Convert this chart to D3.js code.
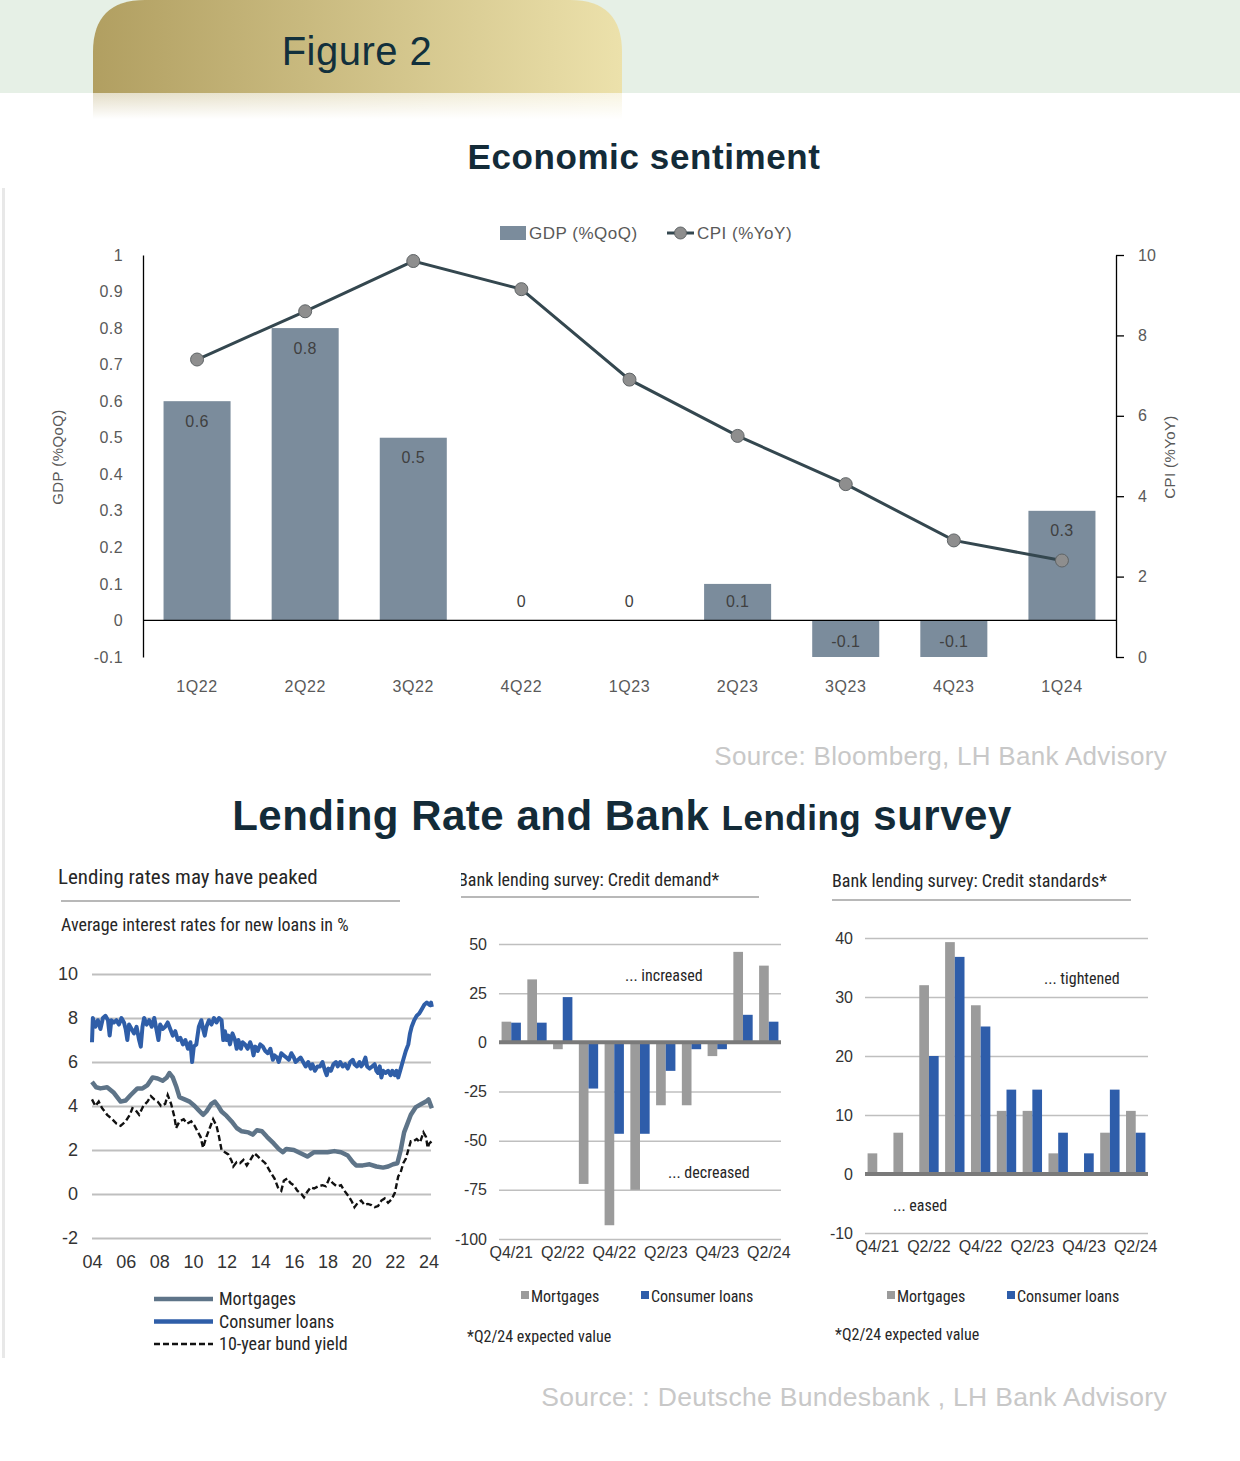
<!DOCTYPE html>
<html>
<head>
<meta charset="utf-8">
<script src="https://cdn.jsdelivr.net/npm/d3@7"></script>
<style>
  body { margin: 0; background: #fff; }
  svg { display: block; }
</style>
</head>
<body>
<div class="figure"></div>
<script>
// ---- data: economic sentiment ----
const quarters = ["1Q22", "2Q22", "3Q22", "4Q22", "1Q23", "2Q23", "3Q23", "4Q23", "1Q24"];
const gdp = [0.6, 0.8, 0.5, 0, 0, 0.1, -0.1, -0.1, 0.3];
const cpi = [7.4, 8.6, 9.85, 9.15, 6.9, 5.5, 4.3, 2.9, 2.4];
const gdpTicks = [-0.1, 0, 0.1, 0.2, 0.3, 0.4, 0.5, 0.6, 0.7, 0.8, 0.9, 1];
const cpiTicks = [0, 2, 4, 6, 8, 10];

// ---- data: lending rates (year, %) ----
const rateTicks = [-2, 0, 2, 4, 6, 8, 10];
const yearTicks = [2004, 2006, 2008, 2010, 2012, 2014, 2016, 2018, 2020, 2022, 2024];
const consumerLoans = [
  [2004.0, 6.9], [2004.05, 8.0], [2004.2, 7.6], [2004.35, 7.9], [2004.5, 7.5], [2004.65, 8.0], [2004.8, 8.1],
  [2004.95, 7.9], [2005.05, 7.2], [2005.15, 7.9], [2005.3, 7.8], [2005.45, 7.9], [2005.6, 7.7], [2005.75, 8.0],
  [2005.9, 7.8], [2006.0, 7.5], [2006.1, 7.0], [2006.2, 7.7], [2006.35, 7.5], [2006.5, 7.3], [2006.65, 7.6],
  [2006.8, 7.0], [2006.9, 6.7], [2007.0, 7.6], [2007.1, 8.0], [2007.25, 7.7], [2007.4, 7.9], [2007.55, 7.6],
  [2007.7, 8.0], [2007.85, 7.4], [2007.95, 7.0], [2008.05, 7.7], [2008.2, 7.5], [2008.35, 7.6], [2008.5, 7.8],
  [2008.65, 7.5], [2008.8, 7.2], [2008.95, 7.4], [2009.1, 7.0], [2009.25, 7.1], [2009.4, 6.8], [2009.55, 7.0],
  [2009.7, 6.6], [2009.85, 6.9], [2009.95, 6.0], [2010.05, 6.7], [2010.2, 6.8], [2010.35, 7.6], [2010.5, 7.9],
  [2010.6, 7.5], [2010.7, 7.2], [2010.8, 7.6], [2010.95, 7.9], [2011.1, 7.7], [2011.25, 8.0], [2011.4, 7.8],
  [2011.55, 8.0], [2011.7, 7.9], [2011.8, 7.0], [2011.9, 7.4], [2012.0, 7.0], [2012.1, 7.2], [2012.2, 6.8],
  [2012.35, 7.3], [2012.5, 7.0], [2012.6, 6.6], [2012.7, 7.0], [2012.85, 6.6], [2012.95, 6.9], [2013.1, 6.8],
  [2013.25, 6.6], [2013.4, 6.9], [2013.5, 6.7], [2013.6, 6.3], [2013.7, 6.7], [2013.85, 6.5], [2014.0, 6.8],
  [2014.15, 6.7], [2014.3, 6.5], [2014.45, 6.4], [2014.6, 6.6], [2014.75, 6.1], [2014.85, 6.3], [2015.0, 6.2],
  [2015.1, 6.0], [2015.25, 6.4], [2015.4, 6.3], [2015.55, 6.2], [2015.7, 6.1], [2015.85, 6.4], [2016.0, 6.2],
  [2016.1, 6.0], [2016.25, 6.1], [2016.4, 6.2], [2016.55, 6.0], [2016.7, 5.8], [2016.85, 6.0], [2017.0, 5.7],
  [2017.1, 5.9], [2017.25, 5.6], [2017.4, 5.8], [2017.55, 5.8], [2017.7, 6.0], [2017.85, 5.6], [2017.95, 5.4],
  [2018.05, 5.7], [2018.2, 5.6], [2018.35, 5.9], [2018.5, 6.0], [2018.6, 5.8], [2018.75, 6.0], [2018.9, 5.8],
  [2019.05, 5.9], [2019.2, 5.7], [2019.35, 6.0], [2019.5, 6.1], [2019.6, 5.9], [2019.75, 5.8], [2019.9, 6.0],
  [2020.0, 5.8], [2020.1, 5.9], [2020.25, 6.2], [2020.35, 5.8], [2020.5, 5.7], [2020.65, 5.8], [2020.8, 5.9],
  [2020.9, 5.6], [2021.0, 5.5], [2021.1, 5.8], [2021.2, 5.3], [2021.3, 5.6], [2021.45, 5.5], [2021.6, 5.6],
  [2021.75, 5.4], [2021.85, 5.6], [2022.0, 5.4], [2022.1, 5.6], [2022.2, 5.3], [2022.35, 5.7], [2022.5, 6.1],
  [2022.65, 6.5], [2022.8, 6.8], [2022.9, 7.3], [2023.0, 7.6], [2023.15, 7.9], [2023.3, 8.1], [2023.45, 8.2],
  [2023.6, 8.4], [2023.75, 8.6], [2023.9, 8.7], [2024.05, 8.6], [2024.15, 8.7], [2024.2, 8.5]
];
const mortgages = [
  [2004.0, 5.1], [2004.25, 4.85], [2004.5, 4.8], [2004.9, 4.85], [2005.3, 4.6], [2005.7, 4.2], [2006.0, 4.25],
  [2006.3, 4.5], [2006.7, 4.8], [2007.0, 4.8], [2007.3, 4.95], [2007.6, 5.3], [2007.9, 5.25], [2008.2, 5.15],
  [2008.45, 5.3], [2008.6, 5.5], [2008.8, 5.3], [2009.0, 4.9], [2009.2, 4.4], [2009.5, 4.3], [2009.8, 4.2],
  [2010.1, 4.0], [2010.35, 3.8], [2010.6, 3.6], [2010.8, 3.75], [2011.1, 4.1], [2011.3, 4.2], [2011.5, 4.0],
  [2011.7, 3.75], [2012.0, 3.55], [2012.3, 3.3], [2012.6, 3.0], [2012.9, 2.85], [2013.3, 2.8], [2013.55, 2.7],
  [2013.8, 2.9], [2014.1, 2.85], [2014.4, 2.6], [2014.8, 2.3], [2015.1, 2.05], [2015.35, 1.9], [2015.55, 2.05],
  [2016.0, 2.0], [2016.4, 1.85], [2016.8, 1.7], [2017.2, 1.9], [2017.6, 1.9], [2018.0, 1.9], [2018.4, 1.95],
  [2018.8, 1.9], [2019.2, 1.75], [2019.5, 1.45], [2019.7, 1.3], [2020.1, 1.3], [2020.5, 1.35], [2020.9, 1.25],
  [2021.3, 1.2], [2021.6, 1.25], [2021.9, 1.35], [2022.15, 1.4], [2022.35, 2.0], [2022.55, 2.8], [2022.75, 3.2],
  [2022.95, 3.6], [2023.25, 3.95], [2023.6, 4.1], [2023.85, 4.2], [2024.0, 4.3], [2024.2, 3.9]
];
const bundYield = [
  [2004.0, 4.3], [2004.2, 4.0], [2004.4, 4.2], [2004.6, 3.9], [2004.9, 3.6], [2005.2, 3.4], [2005.45, 3.2],
  [2005.7, 3.1], [2006.0, 3.3], [2006.25, 3.6], [2006.4, 3.9], [2006.6, 3.8], [2006.8, 3.6], [2007.05, 4.0],
  [2007.3, 4.2], [2007.5, 4.45], [2007.7, 4.3], [2007.9, 4.2], [2008.1, 4.0], [2008.35, 4.1], [2008.5, 4.5],
  [2008.7, 4.1], [2008.9, 3.5], [2009.0, 3.0], [2009.2, 3.3], [2009.45, 3.4], [2009.65, 3.2], [2009.9, 3.3],
  [2010.1, 3.1], [2010.3, 2.8], [2010.45, 2.6], [2010.6, 2.1], [2010.8, 2.6], [2011.0, 3.0], [2011.2, 3.4],
  [2011.4, 3.1], [2011.55, 2.6], [2011.7, 2.0], [2011.9, 1.9], [2012.1, 1.8], [2012.3, 1.5], [2012.4, 1.25],
  [2012.6, 1.45], [2012.8, 1.4], [2013.0, 1.55], [2013.2, 1.3], [2013.45, 1.6], [2013.65, 1.85], [2013.8, 1.75],
  [2014.0, 1.6], [2014.3, 1.4], [2014.6, 1.0], [2014.85, 0.7], [2015.05, 0.3], [2015.25, 0.15], [2015.4, 0.6],
  [2015.6, 0.7], [2015.8, 0.5], [2016.0, 0.4], [2016.2, 0.15], [2016.45, 0.0], [2016.6, -0.15], [2016.8, 0.1],
  [2017.0, 0.3], [2017.2, 0.25], [2017.45, 0.35], [2017.7, 0.4], [2017.9, 0.35], [2018.1, 0.7], [2018.3, 0.5],
  [2018.55, 0.35], [2018.8, 0.4], [2019.0, 0.15], [2019.25, -0.1], [2019.45, -0.35], [2019.6, -0.6],
  [2019.8, -0.4], [2020.0, -0.3], [2020.2, -0.5], [2020.4, -0.45], [2020.6, -0.5], [2020.8, -0.6],
  [2021.0, -0.55], [2021.2, -0.3], [2021.4, -0.2], [2021.6, -0.4], [2021.8, -0.25], [2022.0, 0.05],
  [2022.2, 0.8], [2022.35, 1.0], [2022.5, 1.4], [2022.65, 1.6], [2022.8, 2.0], [2022.95, 2.4], [2023.1, 2.4],
  [2023.3, 2.5], [2023.5, 2.35], [2023.7, 2.8], [2023.85, 2.6], [2023.95, 2.1], [2024.05, 2.3], [2024.2, 2.4]
];

// ---- data: bank lending survey (net percentages) ----
const surveyQuarters = ["Q4/21", "Q1/22", "Q2/22", "Q3/22", "Q4/22", "Q1/23", "Q2/23", "Q3/23", "Q4/23", "Q1/24", "Q2/24"];
const surveySeries = ["Mortgages", "Consumer loans"];
const demandMortgages = [10.5, 32, -3.5, -72, -93, -75, -32, -32, -7, 46, 39];
const demandConsumer = [10, 10, 23, -23.5, -46.5, -46.5, -14.5, -3.5, -3.5, 14, 10.5];
const demandTicks = [-100, -75, -50, -25, 0, 25, 50];
const standardsMortgages = [3.5, 7, 32, 39.3, 28.6, 10.7, 10.7, 3.5, 0, 7, 10.7];
const standardsConsumer = [0, 0, 20, 36.8, 25, 14.3, 14.3, 7, 3.5, 14.3, 7];
const standardsTicks = [-10, 0, 10, 20, 30, 40];

const width = 1240;
const height = 1461;
const sansFont = "'Liberation Sans', Arial, Helvetica, sans-serif";
const narrowFont = "'Liberation Sans Narrow', 'Arial Narrow', 'Roboto Condensed', 'Liberation Sans', sans-serif";
// plain hyphen for negatives, like the source charts
const plain = d => String(d);

let svg = d3.select(".figure").append("svg")
    .attr("width", width)
    .attr("height", height)
    .attr("viewBox", `0 0 ${width} ${height}`);

let defs = svg.append("defs");

// gold gradient for the header tab
let gold = defs.append("linearGradient").attr("id", "gold");
gold.append("stop").attr("offset", "0%").attr("stop-color", "#b19f61");
gold.append("stop").attr("offset", "100%").attr("stop-color", "#ece1ab");

// reflection under the tab
let fade = defs.append("linearGradient").attr("id", "fade")
    .attr("x1", 0).attr("y1", 0).attr("x2", 0).attr("y2", 1);
fade.append("stop").attr("offset", "0%").attr("stop-color", "#ffffff").attr("stop-opacity", 0);
fade.append("stop").attr("offset", "100%").attr("stop-color", "#ffffff").attr("stop-opacity", 1);

defs.append("clipPath").attr("id", "clipDemandTitle")
    .append("rect").attr("x", 461).attr("y", 850).attr("width", 320).attr("height", 50);

// ---- header ----
svg.append("rect").attr("x", 0).attr("y", 0).attr("width", width).attr("height", 93).attr("fill", "#e6f0e6");
svg.append("path")
    .attr("d", "M93,93 L93,52 Q93,0 145,0 L570,0 Q622,0 622,52 L622,93 Z")
    .attr("fill", "url(#gold)");
svg.append("rect").attr("x", 93).attr("y", 93).attr("width", 529).attr("height", 26)
    .attr("fill", "url(#gold)").attr("opacity", 0.35);
svg.append("rect").attr("x", 93).attr("y", 93).attr("width", 529).attr("height", 26)
    .attr("fill", "url(#fade)");
svg.append("text")
    .attr("x", 357).attr("y", 65)
    .attr("text-anchor", "middle")
    .style("font-family", sansFont).style("font-size", "40px").style("letter-spacing", "0.5px")
    .attr("fill", "#12303c")
    .text("Figure 2");

// thin grey strip on the left edge
svg.append("rect").attr("x", 2).attr("y", 188).attr("width", 3).attr("height", 1170).attr("fill", "#e8e8e8");

svg.append("text")
    .attr("x", 644).attr("y", 169)
    .attr("text-anchor", "middle")
    .style("font-family", sansFont).style("font-size", "35px").style("font-weight", "bold").style("letter-spacing", "0.6px")
    .attr("fill", "#132b38")
    .text("Economic sentiment");

// ---- top chart: GDP bars + CPI line ----
const topBox = { left: 143, right: 1116, top: 255, bottom: 657 };

const xTop = d3.scaleBand().domain(quarters).range([topBox.left, topBox.right]).paddingInner(0.38).paddingOuter(0.19);
const yGdp = d3.scaleLinear().domain([-0.1, 1]).range([topBox.bottom, topBox.top]);
const yCpi = d3.scaleLinear().domain([0, 10]).range([topBox.bottom, topBox.top]);

let topChart = svg.append("g").style("font-family", sansFont);

topChart.append("g")
    .attr("transform", `translate(${topBox.left},0)`)
    .call(d3.axisLeft(yGdp).tickValues(gdpTicks).tickSize(0).tickPadding(20).tickFormat(plain))
    .call(g => g.select(".domain").attr("stroke", "#000").attr("stroke-width", 1.3))
    .call(g => g.selectAll("text").attr("fill", "#595959").style("font-size", "16px").style("letter-spacing", "0.4px"));

topChart.append("g")
    .attr("transform", `translate(${topBox.right},0)`)
    .call(d3.axisRight(yCpi).tickValues(cpiTicks).tickSize(8).tickSizeOuter(0).tickPadding(14).tickFormat(plain))
    .call(g => g.select(".domain").attr("stroke", "#000").attr("stroke-width", 1.3))
    .call(g => g.selectAll("line").attr("stroke", "#000").attr("stroke-width", 1.3))
    .call(g => g.selectAll("text").attr("fill", "#595959").style("font-size", "16px"));

topChart.append("g")
    .attr("transform", `translate(0,${topBox.bottom})`)
    .call(d3.axisBottom(xTop).tickSize(0).tickPadding(24))
    .call(g => g.select(".domain").remove())
    .call(g => g.selectAll("text").attr("fill", "#595959").style("font-size", "16px").style("letter-spacing", "0.6px"));

topChart.selectAll(".gdp-bar")
    .data(quarters)
    .enter()
    .append("rect")
    .attr("class", "gdp-bar")
    .attr("x", d => xTop(d))
    .attr("width", xTop.bandwidth())
    .attr("y", (d, i) => yGdp(Math.max(0, gdp[i])))
    .attr("height", (d, i) => Math.abs(yGdp(gdp[i]) - yGdp(0)))
    .attr("fill", "#7b8c9c");

// zero line
topChart.append("line")
    .attr("x1", topBox.left).attr("x2", topBox.right)
    .attr("y1", yGdp(0)).attr("y2", yGdp(0))
    .attr("stroke", "#000").attr("stroke-width", 1.3);

topChart.selectAll(".gdp-label")
    .data(quarters)
    .enter()
    .append("text")
    .attr("class", "gdp-label")
    .attr("x", d => xTop(d) + xTop.bandwidth() / 2)
    .attr("y", (d, i) => gdp[i] < 0 ? yGdp(0) + 21 : Math.min(yGdp(gdp[i]) + 20, yGdp(0) - 19))
    .attr("dy", "0.35em")
    .attr("text-anchor", "middle")
    .attr("fill", "#404040")
    .style("font-size", "16px").style("letter-spacing", "0.4px")
    .text((d, i) => gdp[i]);

let cpiLine = d3.line()
    .x((d, i) => xTop(quarters[i]) + xTop.bandwidth() / 2)
    .y(d => yCpi(d));

topChart.append("path")
    .datum(cpi)
    .attr("d", cpiLine)
    .attr("fill", "none")
    .attr("stroke", "#34474f")
    .attr("stroke-width", 3);

topChart.selectAll(".cpi-dot")
    .data(cpi)
    .enter()
    .append("circle")
    .attr("class", "cpi-dot")
    .attr("cx", (d, i) => xTop(quarters[i]) + xTop.bandwidth() / 2)
    .attr("cy", d => yCpi(d))
    .attr("r", 6.5)
    .attr("fill", "#8e8e8e")
    .attr("stroke", "#5f6466")
    .attr("stroke-width", 1);

// axis titles
topChart.append("text")
    .attr("transform", "translate(63,457) rotate(-90)")
    .attr("text-anchor", "middle")
    .attr("fill", "#595959").style("font-size", "15px").style("letter-spacing", "0.4px")
    .text("GDP (%QoQ)");
topChart.append("text")
    .attr("transform", "translate(1175,457) rotate(-90)")
    .attr("text-anchor", "middle")
    .attr("fill", "#595959").style("font-size", "15px").style("letter-spacing", "0.4px")
    .text("CPI (%YoY)");

// legend
let topLegend = topChart.append("g").attr("transform", "translate(500,233)");
topLegend.append("rect").attr("x", 0).attr("y", -7).attr("width", 26).attr("height", 14).attr("fill", "#7b8c9c");
topLegend.append("text").attr("x", 29).attr("dy", "0.35em").attr("fill", "#595959").style("font-size", "17px").style("letter-spacing", "0.5px").text("GDP (%QoQ)");
topLegend.append("line").attr("x1", 167).attr("x2", 194).attr("stroke", "#34474f").attr("stroke-width", 3);
topLegend.append("circle").attr("cx", 180.5).attr("r", 6).attr("fill", "#8e8e8e").attr("stroke", "#5f6466");
topLegend.append("text").attr("x", 197).attr("dy", "0.35em").attr("fill", "#595959").style("font-size", "17px").style("letter-spacing", "0.5px").text("CPI (%YoY)");

svg.append("text")
    .attr("x", 1167).attr("y", 765)
    .attr("text-anchor", "end")
    .style("font-family", sansFont).style("font-size", "26px").style("letter-spacing", "0.3px")
    .attr("fill", "#c8c8c8")
    .text("Source: Bloomberg, LH Bank Advisory");

// ---- second title ----
let title2 = svg.append("text")
    .attr("x", 622).attr("y", 830)
    .attr("text-anchor", "middle")
    .style("font-family", sansFont).style("font-weight", "bold").style("letter-spacing", "0.5px")
    .attr("fill", "#132b38");
title2.append("tspan").style("font-size", "42px").text("Lending Rate and Bank ");
title2.append("tspan").style("font-size", "35px").text("Lending");
title2.append("tspan").style("font-size", "42px").text(" survey");

// ---- panel 1: lending rates ----
let p1 = svg.append("g").style("font-family", narrowFont);

p1.append("text").attr("x", 58).attr("y", 884).attr("fill", "#262626").style("font-size", "21px").text("Lending rates may have peaked");
p1.append("line").attr("x1", 61).attr("x2", 400).attr("y1", 901).attr("y2", 901).attr("stroke", "#a0a0a0").attr("stroke-width", 1.5);
p1.append("text").attr("x", 61).attr("y", 931).attr("fill", "#262626").style("font-size", "18px").text("Average interest rates for new loans in %");

const xRate = d3.scaleLinear().domain([2004, 2024]).range([92, 428.5]);
const yRate = d3.scaleLinear().domain([-2, 10]).range([1238, 974]);

p1.append("g")
    .attr("transform", "translate(92,0)")
    .call(d3.axisLeft(yRate).tickValues(rateTicks).tickSize(-339).tickPadding(14).tickFormat(plain))
    .call(g => g.select(".domain").remove())
    .call(g => g.selectAll("line").attr("stroke", "#bfbfbf").attr("stroke-width", 2))
    .call(g => g.selectAll("text").attr("fill", "#333").style("font-size", "18px"));

p1.append("g")
    .attr("transform", "translate(0,1238)")
    .call(d3.axisBottom(xRate).tickValues(yearTicks).tickSize(0).tickPadding(17)
        .tickFormat(d => String(d).slice(2)))
    .call(g => g.select(".domain").remove())
    .call(g => g.selectAll("text").attr("fill", "#333").style("font-size", "18px"));

let rateLine = d3.line().x(d => xRate(d[0])).y(d => yRate(d[1]));

p1.append("path").datum(bundYield).attr("d", rateLine)
    .attr("fill", "none").attr("stroke", "#111").attr("stroke-width", 2.4).attr("stroke-dasharray", "6,3");
p1.append("path").datum(mortgages).attr("d", rateLine)
    .attr("fill", "none").attr("stroke", "#5e7488").attr("stroke-width", 4.5).attr("stroke-linejoin", "round");
p1.append("path").datum(consumerLoans).attr("d", rateLine)
    .attr("fill", "none").attr("stroke", "#2f5ea8").attr("stroke-width", 4).attr("stroke-linejoin", "round");

const rateLegend = [
    { label: "Mortgages", color: "#5e7488", dash: null, w: 4.5 },
    { label: "Consumer loans", color: "#2f5ea8", dash: null, w: 4.5 },
    { label: "10-year bund yield", color: "#111", dash: "6,3", w: 2.6 }
];
let p1Legend = p1.selectAll(".rate-legend")
    .data(rateLegend)
    .enter()
    .append("g")
    .attr("transform", (d, i) => `translate(154,${1299 + i * 22.5})`);
p1Legend.append("line").attr("x1", 0).attr("x2", 59)
    .attr("stroke", d => d.color).attr("stroke-width", d => d.w).attr("stroke-dasharray", d => d.dash);
p1Legend.append("text").attr("x", 65).attr("dy", "0.35em").attr("fill", "#262626").style("font-size", "18px").text(d => d.label);

// ---- survey panels ----
function surveyPanel(opts) {
    let g = svg.append("g").style("font-family", narrowFont);

    let titleText = g.append("text").attr("x", opts.titleX).attr("y", opts.titleY)
        .attr("fill", "#262626").style("font-size", "18px").text(opts.title);
    if (opts.clip) titleText.attr("clip-path", `url(#${opts.clip})`);
    g.append("line").attr("x1", opts.ruleX1).attr("x2", opts.ruleX2).attr("y1", opts.ruleY).attr("y2", opts.ruleY)
        .attr("stroke", "#a0a0a0").attr("stroke-width", 1.5);

    const x0 = d3.scaleBand().domain(surveyQuarters).range([opts.x1, opts.x2]).paddingInner(0.25).paddingOuter(0.1);
    const x1 = d3.scaleBand().domain(surveySeries).range([0, x0.bandwidth()]);
    const y = d3.scaleLinear().domain(opts.domain).range([opts.yBottom, opts.yTop]);

    g.append("g")
        .attr("transform", `translate(${opts.x1},0)`)
        .call(d3.axisLeft(y).tickValues(opts.ticks).tickSize(-(opts.x2 - opts.x1)).tickPadding(12).tickFormat(plain))
        .call(a => a.select(".domain").remove())
        .call(a => a.selectAll("line").attr("stroke", "#bfbfbf").attr("stroke-width", 1.5))
        .call(a => a.selectAll("text").attr("fill", "#333").style("font-size", "16px"));

    g.append("g")
        .attr("transform", `translate(0,${opts.yBottom})`)
        .call(d3.axisBottom(x0).tickValues(surveyQuarters.filter((d, i) => i % 2 === 0)).tickSize(0).tickPadding(8))
        .call(a => a.select(".domain").remove())
        .call(a => a.selectAll("text").attr("fill", "#333").style("font-size", "16px"));

    const colors = { "Mortgages": "#9b9b9b", "Consumer loans": "#2e5daa" };
    let groups = g.selectAll(".grp")
        .data(surveyQuarters)
        .enter()
        .append("g")
        .attr("transform", d => `translate(${x0(d)},0)`);
    groups.selectAll("rect")
        .data((d, i) => [
            { key: "Mortgages", v: opts.mortgages[i] },
            { key: "Consumer loans", v: opts.consumer[i] }
        ])
        .enter()
        .append("rect")
        .attr("x", d => x1(d.key))
        .attr("width", x1.bandwidth())
        .attr("y", d => y(Math.max(0, d.v)))
        .attr("height", d => Math.abs(y(d.v) - y(0)))
        .attr("fill", d => colors[d.key]);

    g.append("line").attr("x1", opts.x1).attr("x2", opts.x2).attr("y1", y(0)).attr("y2", y(0))
        .attr("stroke", "#7a7a7a").attr("stroke-width", 4);

    opts.notes.forEach(n => {
        g.append("text").attr("x", n.x).attr("y", n.y).attr("fill", "#262626").style("font-size", "16px").text(n.text);
    });

    let legend = g.append("g").attr("transform", `translate(${opts.legendX},${opts.legendY})`);
    legend.append("rect").attr("x", 0).attr("y", -5).attr("width", 8).attr("height", 8).attr("fill", colors["Mortgages"]);
    legend.append("text").attr("x", 10).attr("dy", "0.35em").attr("fill", "#262626").style("font-size", "16px").text("Mortgages");
    legend.append("rect").attr("x", 120).attr("y", -5).attr("width", 8).attr("height", 8).attr("fill", colors["Consumer loans"]);
    legend.append("text").attr("x", 130).attr("dy", "0.35em").attr("fill", "#262626").style("font-size", "16px").text("Consumer loans");

    g.append("text").attr("x", opts.footX).attr("y", opts.footY).attr("fill", "#262626").style("font-size", "16px")
        .text("*Q2/24 expected value");
}

surveyPanel({
    title: "Bank lending survey: Credit demand*", titleX: 458, titleY: 886, clip: "clipDemandTitle",
    ruleX1: 461, ruleX2: 759, ruleY: 897,
    x1: 499, x2: 781, yTop: 944, yBottom: 1239,
    domain: [-100, 50], ticks: demandTicks,
    mortgages: demandMortgages, consumer: demandConsumer,
    notes: [{ x: 625, y: 981, text: "... increased" }, { x: 668, y: 1178, text: "... decreased" }],
    legendX: 521, legendY: 1296, footX: 467, footY: 1342
});

surveyPanel({
    title: "Bank lending survey: Credit standards*", titleX: 832, titleY: 887, clip: null,
    ruleX1: 832, ruleX2: 1131, ruleY: 900,
    x1: 865, x2: 1148, yTop: 938, yBottom: 1233,
    domain: [-10, 40], ticks: standardsTicks,
    mortgages: standardsMortgages, consumer: standardsConsumer,
    notes: [{ x: 1044, y: 984, text: "... tightened" }, { x: 893, y: 1211, text: "... eased" }],
    legendX: 887, legendY: 1296, footX: 835, footY: 1340
});

svg.append("text")
    .attr("x", 1167).attr("y", 1406)
    .attr("text-anchor", "end")
    .style("font-family", sansFont).style("font-size", "26.5px").style("letter-spacing", "0.3px")
    .attr("fill", "#c8c8c8")
    .text("Source: : Deutsche Bundesbank , LH Bank Advisory");
</script>
</body>
</html>
